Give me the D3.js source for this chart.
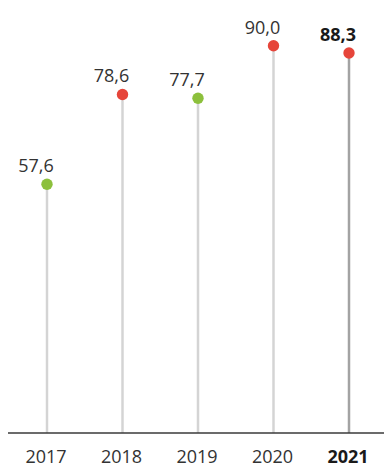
<!DOCTYPE html>
<html>
<head>
<meta charset="utf-8">
<script src="https://cdn.jsdelivr.net/npm/d3@7"></script>
<style>
  body { margin: 0; background: #fff; }
  text { font-family: "Open Sans", sans-serif; }
</style>
</head>
<body>
<div id="chart"></div>
<script>
var years = ['2017', '2018', '2019', '2020', '2021'];
var values = [57.6, 78.6, 77.7, 90.0, 88.3];
var labels = ['57,6', '78,6', '77,7', '90,0', '88,3'];
var dotColors = ['#8cc03c', '#e6453a', '#8cc03c', '#e6453a', '#e6453a'];

var W = 384, H = 464;
var base = 433;

var svg = d3.select('#chart').append('svg')
  .attr('width', W)
  .attr('height', H);

var x = d3.scalePoint()
  .domain(years)
  .range([47, 349]);

var y = d3.scaleLinear()
  .domain([0, 100])
  .range([430.7, 2.9]);

var data = years.map(function(yr, i){
  return { year: yr, value: values[i], label: labels[i], color: dotColors[i], last: i == years.length - 1 };
});

// stems
svg.selectAll('.stem')
  .data(data)
  .enter()
  .append('line')
    .attr('class', 'stem')
    .attr('x1', function(d){ return x(d.year); })
    .attr('x2', function(d){ return x(d.year); })
    .attr('y1', base)
    .attr('y2', function(d){ return y(d.value); })
    .attr('stroke', function(d){ return d.last ? '#a3a3a3' : '#d4d4d4'; })
    .attr('stroke-width', 2.5);

// baseline
svg.append('line')
  .attr('x1', 8).attr('x2', W)
  .attr('y1', base).attr('y2', base)
  .attr('stroke', '#3a3a3a')
  .attr('stroke-width', 1.5);

// dots
svg.selectAll('.dot')
  .data(data)
  .enter()
  .append('circle')
    .attr('class', 'dot')
    .attr('cx', function(d){ return x(d.year); })
    .attr('cy', function(d){ return y(d.value); })
    .attr('r', 5.7)
    .attr('fill', function(d){ return d.color; });

// value labels
svg.selectAll('.val')
  .data(data)
  .enter()
  .append('text')
    .attr('class', 'val')
    .attr('x', function(d){ return x(d.year) - 11; })
    .attr('y', function(d){ return y(d.value) - 12; })
    .attr('text-anchor', 'middle')
    .attr('font-size', 18)
    .attr('font-weight', function(d){ return d.last ? 700 : 400; })
    .attr('fill', function(d){ return d.last ? '#1a1a1a' : '#333'; })
    .text(function(d){ return d.label; });

// year labels
svg.selectAll('.yr')
  .data(data)
  .enter()
  .append('text')
    .attr('class', 'yr')
    .attr('x', function(d){ return x(d.year) - 1; })
    .attr('y', 462.5)
    .attr('text-anchor', 'middle')
    .attr('font-size', 18)
    .attr('font-weight', function(d){ return d.last ? 700 : 400; })
    .attr('fill', function(d){ return d.last ? '#1a1a1a' : '#333'; })
    .text(function(d){ return d.year; });
</script>
</body>
</html>
